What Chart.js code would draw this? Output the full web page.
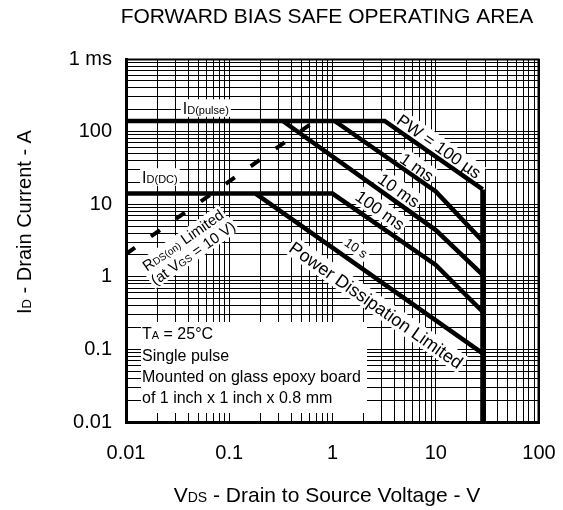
<!DOCTYPE html>
<html>
<head>
<meta charset="utf-8">
<script src="https://cdn.jsdelivr.net/npm/chart.js@4.4.1/dist/chart.umd.min.js"></script>
<style>
  html, body { margin: 0; padding: 0; background: #fff; }
  #wrap { width: 563px; height: 510px; position: relative; }
</style>
</head>
<body>
<div id="wrap"><canvas id="soa"></canvas></div>
<script>
// Tick labels (the top one reads "1 ms" on the original sheet)
const xTickValues = [0.01, 0.1, 1, 10, 100];
const xTickLabels = ['0.01', '0.1', '1', '10', '100'];
const yTickValues = [0.01, 0.1, 1, 10, 100, 1000];
const yTickLabels = ['0.01', '0.1', '1', '10', '100', '1 ms'];

// SOA boundaries: VDS (V) / ID (A)
const vds100us = [0.01, 3.2, 28.5];
const id100us  = [140, 140, 16];
const vds1ms   = [1.05, 10, 28.5];
const id1ms    = [140, 15, 3.1];
const vds10ms  = [0.33, 10, 28.5];
const id10ms   = [140, 4.4, 1.06];
const vds100ms = [0.01, 1, 10, 28.5];
const id100ms  = [14, 14, 1.46, 0.33];
const vdsDC    = [0.18, 28.5];
const idDC     = [14, 0.088];
const vdsMax   = [28.5, 28.5];
const idMax    = [16, 0.01];
const vdsRds   = [0.01, 0.6];
const idRds    = [2.06, 124];

const FONT = '"Liberation Sans", Arial, Helvetica, sans-serif';

function pts(xs, ys) { return xs.map((x, i) => ({ x: x, y: ys[i] })); }

// grid at 1..9 x every decade
function logGrid(min, max) {
  const out = [];
  for (let e = Math.round(Math.log10(min)); e < Math.round(Math.log10(max)); e++) {
    for (let k = 1; k <= 9; k++) out.push(Number((k * Math.pow(10, e)).toPrecision(6)));
  }
  out.push(max);
  return out;
}

function pickLabel(values, labels, v) {
  const i = values.findIndex(t => Math.abs(t - v) / t < 1e-6);
  return i >= 0 ? labels[i] : '';
}

// text with subscripts: [text, size, offset]
function richWidth(ctx, parts) {
  let w = 0;
  parts.forEach(p => { ctx.font = p[1] + 'px ' + FONT; w += ctx.measureText(p[0]).width; });
  return w;
}
function drawRich(ctx, parts, x, y) {
  parts.forEach(p => {
    ctx.font = p[1] + 'px ' + FONT;
    ctx.fillText(p[0], x, y + (p[2] || 0));
    x += ctx.measureText(p[0]).width;
  });
}

// labels inside the plot, anchored in data units
const notes = [
  { x: 0.0593, y: 211, angle: 0,   parts: [['I', 16], ['D(pulse)', 11]] },
  { x: 0.0213, y: 23.7, angle: 0,  parts: [['I', 16], ['D(DC)', 11]] },
  { x: 10.8, y: 63,   angle: 35,  parts: [['PW = 100 \u00b5s', 17]] },
  { x: 6.6,  y: 32.5, angle: 35,  parts: [['1 ms', 17]] },
  { x: 4.4,  y: 15.7, angle: 35,  parts: [['10 ms', 17]] },
  { x: 2.9,  y: 8.3,  angle: 35,  parts: [['100 ms', 17]] },
  { x: 1.7,  y: 2.5,  angle: 35,  parts: [['10 s', 13]] },
  { x: 2.66, y: 0.41, angle: 35,  parts: [['Power Dissipation Limited', 18]] },
  { x: 0.0355, y: 3.2, angle: -35, parts: [['R', 15], ['DS(on)', 10], [' Limited', 15]] },
  { x: 0.0444, y: 2.13, angle: -35, parts: [['(at V', 15], ['GS', 10], [' = 10 V)', 15]] }
];

const conditions = [
  [['T', 16], ['A', 11], [' = 25\u00b0C', 16]],
  [['Single pulse', 16]],
  [['Mounted on glass epoxy board', 16]],
  [['of 1 inch x 1 inch x 0.8 mm', 16]]
];

const sheetText = {
  id: 'sheetText',
  beforeDatasetsDraw(chart) {
    const ctx = chart.ctx, a = chart.chartArea;
    const sx = chart.scales.x, sy = chart.scales.y;
    ctx.save();
    ctx.fillStyle = '#000';
    ctx.textBaseline = 'alphabetic';

    notes.forEach(n => {
      const px = sx.getPixelForValue(n.x), py = sy.getPixelForValue(n.y);
      const size = n.parts[0][1];
      const w = richWidth(ctx, n.parts);
      ctx.save();
      ctx.translate(px, py);
      ctx.rotate(n.angle * Math.PI / 180);
      ctx.fillStyle = '#fff';
      ctx.fillRect(-w / 2 - 2, -size * 0.55, w + 4, size * 1.1);
      ctx.fillStyle = '#000';
      drawRich(ctx, n.parts, -w / 2, size * 0.36);
      ctx.restore();
    });

    // conditions block, lower left
    ctx.fillStyle = '#fff';
    ctx.fillRect(a.left + 15, a.bottom - 100, 226, 91);
    ctx.fillStyle = '#000';
    [83, 61, 40, 19].forEach((off, i) => drawRich(ctx, conditions[i], a.left + 16, a.bottom - off));
    ctx.restore();
  },
  afterDatasetsDraw(chart) {
    const ctx = chart.ctx, a = chart.chartArea;
    ctx.save();
    ctx.strokeStyle = '#000';
    ctx.lineWidth = 2;
    ctx.beginPath();
    ctx.moveTo(a.left, a.top + 0.5);
    ctx.lineTo(a.right - 0.5, a.top + 0.5);
    ctx.lineTo(a.right - 0.5, a.bottom);
    ctx.stroke();
    ctx.restore();
  },
  afterDraw(chart) {
    const ctx = chart.ctx;
    ctx.save();
    ctx.fillStyle = '#000';
    ctx.textBaseline = 'alphabetic';
    ctx.font = '21px ' + FONT;
    ctx.textAlign = 'center';
    ctx.fillText('FORWARD BIAS SAFE OPERATING AREA', 327, 23);
    ctx.textAlign = 'left';

    const xt = [['V', 21], ['DS', 14], [' - Drain to Source Voltage - V', 21]];
    drawRich(ctx, xt, 327 - richWidth(ctx, xt) / 2, 502);

    const yt = [['I', 20], ['D', 13], [' - Drain Current - A', 20]];
    ctx.translate(31, 222);
    ctx.rotate(-Math.PI / 2);
    drawRich(ctx, yt, -richWidth(ctx, yt) / 2, 0);
    ctx.restore();
  }
};

const line = (xs, ys, w, dash) => ({
  data: pts(xs, ys),
  showLine: true,
  borderColor: '#000',
  borderWidth: w,
  borderDash: dash || [],
  borderJoinStyle: 'miter',
  pointRadius: 0,
  fill: false,
  tension: 0
});

new Chart(document.getElementById('soa'), {
  type: 'scatter',
  data: {
    datasets: [
      line(vds100us, id100us, 4.5),
      line(vds1ms, id1ms, 4.5),
      line(vds10ms, id10ms, 4.5),
      line(vds100ms, id100ms, 4.5),
      line(vdsDC, idDC, 4.5),
      line(vdsMax, idMax, 5),
      line(vdsRds, idRds, 4, [11, 19.5])
    ]
  },
  options: {
    responsive: true,
    maintainAspectRatio: false,
    animation: false,
    events: [],
    layout: { padding: { left: 0, right: 24, top: 59, bottom: 0 } },
    plugins: { legend: { display: false }, tooltip: { enabled: false }, title: { display: false } },
    scales: {
      x: {
        type: 'logarithmic',
        min: 0.01, max: 100,
        afterBuildTicks: s => { s.ticks = logGrid(0.01, 100).map(v => ({ value: v })); },
        afterFit: s => { s.height = 88; s.paddingLeft = 0; s.paddingRight = 0; },
        grid: { color: '#000', lineWidth: 1, drawTicks: false },
        border: { color: '#000', width: 3 },
        ticks: {
          autoSkip: false, maxRotation: 0, padding: 19, color: '#000',
          font: { family: FONT, size: 20 },
          callback: v => pickLabel(xTickValues, xTickLabels, v)
        }
      },
      y: {
        type: 'logarithmic',
        min: 0.01, max: 1000,
        afterBuildTicks: s => { s.ticks = logGrid(0.01, 1000).map(v => ({ value: v })); },
        afterFit: s => { s.width = 126; s.paddingTop = 0; s.paddingBottom = 0; },
        grid: { color: '#000', lineWidth: 1, drawTicks: false },
        border: { color: '#000', width: 3 },
        ticks: {
          autoSkip: false, padding: 14, color: '#000',
          font: { family: FONT, size: 20 },
          callback: v => pickLabel(yTickValues, yTickLabels, v)
        }
      }
    }
  },
  plugins: [sheetText]
});
</script>
</body>
</html>
